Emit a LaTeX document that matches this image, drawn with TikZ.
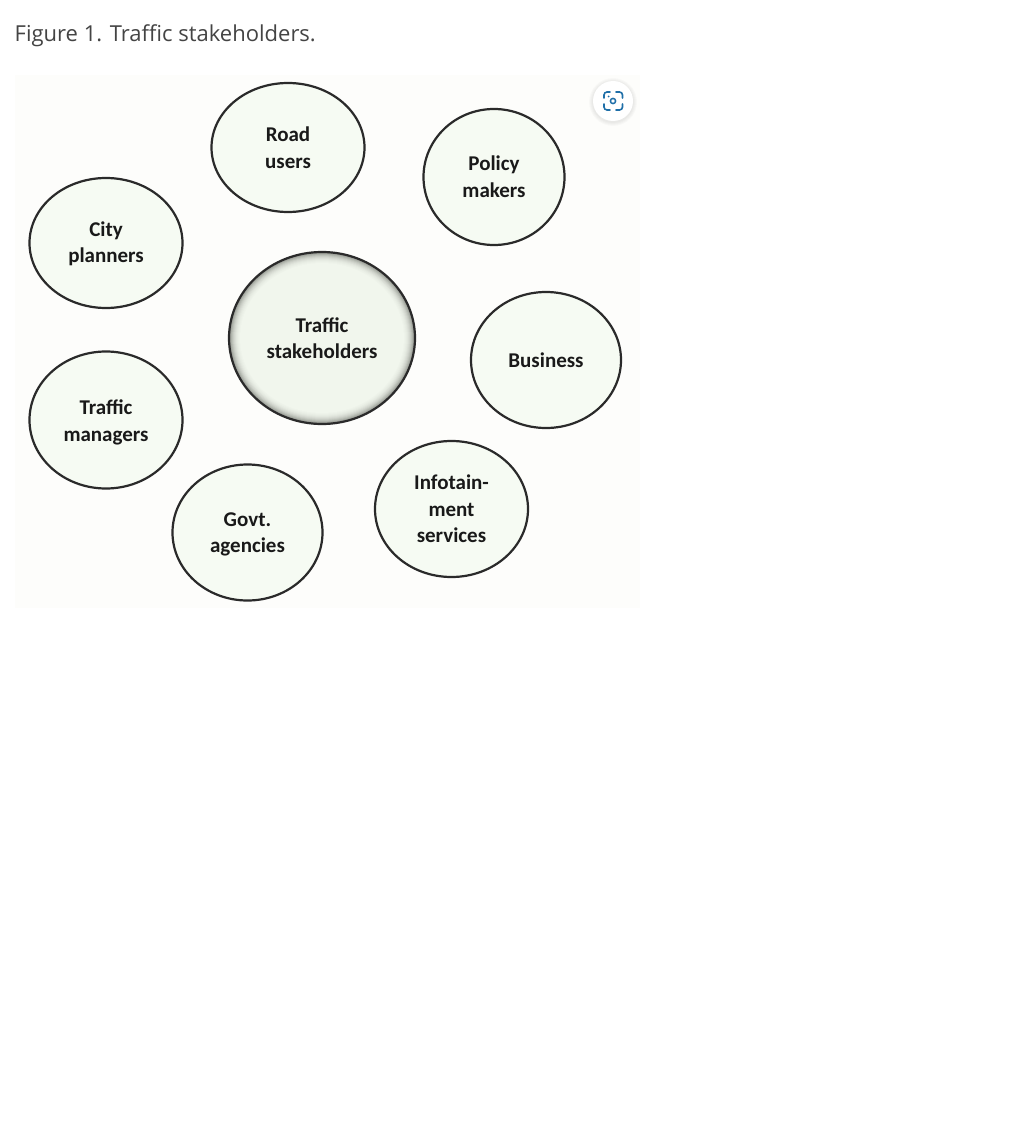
\documentclass[tikz,border=0pt]{standalone}
\usepackage{fontspec}
\setmainfont{Open Sans}
\newfontfamily\labelfont{Carlito}
\usetikzlibrary{shapes.geometric}
\definecolor{panelbg}{HTML}{FDFDFB}
\definecolor{bubblefill}{HTML}{F6FBF3}
\definecolor{inkline}{HTML}{2A2A2A}
\definecolor{capt}{HTML}{444444}
\definecolor{iconblue}{HTML}{1F6FA8}
\definecolor{hubcore}{HTML}{F1F6ED}
\definecolor{hubedge}{HTML}{8C8F88}
\newcommand{\lbl}[2]{\raisebox{\dimexpr-5.25pt-#1\relax}[0pt][0pt]{\begin{tabular}{@{}c@{}}#2\end{tabular}}}
\tikzset{x=1pt,y=-1pt,
 bubble/.style={ellipse,draw=inkline,line width=2.2pt,fill=bubblefill,align=center,inner sep=0pt,font=\labelfont\bfseries\fontsize{21}{26.5}\selectfont,text=black!90},
 hub/.style={bubble,fill=none},
 caption/.style={anchor=west,inner sep=0pt,text=capt,font=\fontsize{22}{26}\selectfont},
 halo/.style={black,opacity=0.018},
 iconline/.style={iconblue,line width=1.6pt,line cap=round,rounded corners=3pt}}
\begin{document}
\begin{tikzpicture}
\useasboundingbox (0,0) rectangle (1024,1142);
\fill[white] (0,0) rectangle (1024,1142);
\node[caption] (cap) at (14.5,35.5) {Figure 1. Traffic stakeholders.};
\fill[panelbg] (15,75) rectangle (640,608);
\node[bubble,minimum width=153pt,minimum height=129pt] (road) at (288,147.5) {Road\\users};
\node[bubble,minimum width=141pt,minimum height=136pt] (policy) at (494,177) {\lbl{1.5pt}{Policy\\makers}};
\node[bubble,minimum width=153pt,minimum height=130pt] (city) at (106,243) {\lbl{1pt}{City\\planners}};
\foreach \t/\p in {0/0,1/18,2/34,3/48,4/60,5/70,6/78,7/85,8/90,9/94,10/97,11/100}
 {\fill[hubcore!\p!hubedge] (322,338) ellipse [x radius={93-\t},y radius={86-\t}];}
\node[hub,minimum width=186pt,minimum height=172pt] (hubn) at (322,338) {Traffic\\stakeholders};
\node[bubble,minimum width=150pt,minimum height=136pt] (biz) at (546,360) {Business};
\node[bubble,minimum width=153pt,minimum height=137pt] (mgr) at (106,420) {\lbl{2.5pt}{Traffic\\managers}};
\node[bubble,minimum width=153pt,minimum height=136pt] (info) at (451.5,509) {Infotain-\\ment\\services};
\node[bubble,minimum width=150pt,minimum height=136pt] (gov) at (247.5,532.5) {\lbl{1.5pt}{Govt.\\agencies}};
\foreach \r in {24,23,22,21} {\fill[halo] (613,102) circle (\r pt);}
\node[circle,fill=white,minimum size=40pt,inner sep=0pt] (btn) at (613,101) {};
\draw[iconblue,line width=1.5pt] (btn.center) circle (2.6pt);
\fill[iconblue] (608.5,96.5) circle (1pt);
\draw[iconline] (604,98) -- (604,92) -- (610,92);
\draw[iconline] (616,92) -- (622.5,92) -- (622.5,98);
\draw[iconline] (622.5,104) -- (622.5,110) -- (616,110);
\draw[iconline] (610,110) -- (604,110) -- (604,104);
\end{tikzpicture}
\end{document}
